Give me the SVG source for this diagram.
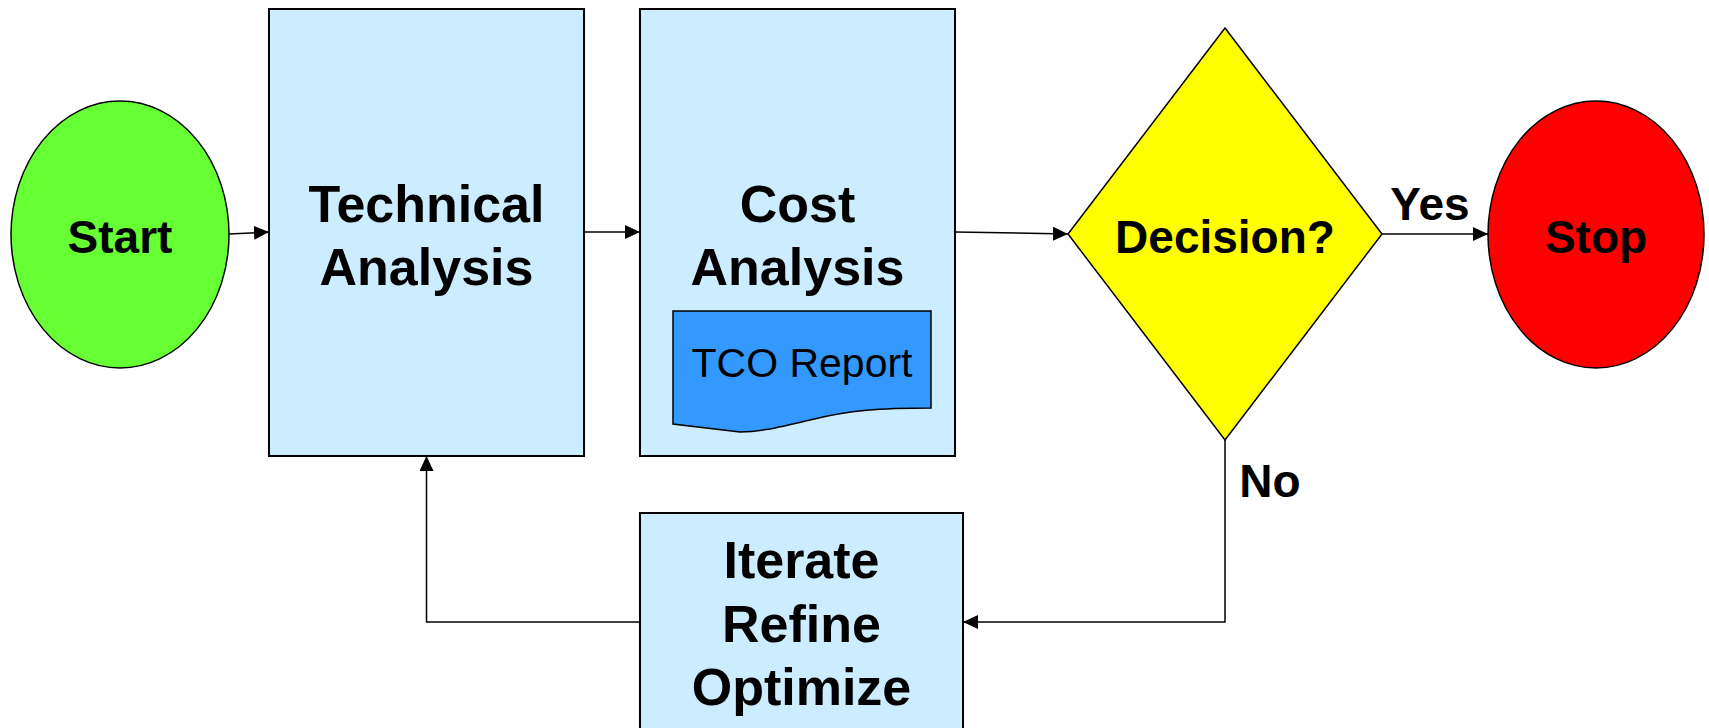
<svg xmlns="http://www.w3.org/2000/svg" width="1709" height="728" viewBox="0 0 1709 728">
  <style>
    .box { fill: #CCECFF; stroke: #000; stroke-width: 2; }
    .edge { fill: none; stroke: #000; stroke-width: 1.5; }
    .lbl { font-family: "Liberation Sans", Arial, sans-serif; font-weight: bold; font-size: 52px; fill: #000; text-anchor: middle; }
    .lbl-s { font-family: "Liberation Sans", Arial, sans-serif; font-weight: bold; font-size: 46px; fill: #000; text-anchor: middle; }
  </style>
  <defs>
    <marker id="arrow" viewBox="0 0 15 14" refX="15" refY="7" markerWidth="15" markerHeight="14" markerUnits="userSpaceOnUse" orient="auto">
      <path d="M0,0 L15,7 L0,14 Z" fill="#000"/>
    </marker>
  </defs>
  <rect width="1709" height="728" fill="#fff"/>

  <g id="start">
    <ellipse cx="120" cy="234.5" rx="109" ry="133.5" fill="#66FF33" stroke="#000" stroke-width="1.5"/>
    <text class="lbl-s" x="120" y="253">Start</text>
  </g>

  <g id="technical-analysis">
    <rect class="box" x="269" y="9" width="315" height="447"/>
    <text class="lbl" x="426.5" y="222">Technical</text>
    <text class="lbl" x="426.5" y="285">Analysis</text>
  </g>

  <g id="cost-analysis">
    <rect class="box" x="640" y="9" width="315" height="447"/>
    <text class="lbl" x="797.5" y="222">Cost</text>
    <text class="lbl" x="797.5" y="285">Analysis</text>
  </g>

  <g id="tco-report">
    <path d="M673,311 H931 V408 C880,408 850,410 810,420 C775,428 760,432 740,432 L673,424 Z" fill="#3399FF" stroke="#000" stroke-width="1.5"/>
    <text x="802" y="377" font-family="'Liberation Sans', Arial, sans-serif" font-size="41" text-anchor="middle" fill="#000">TCO Report</text>
  </g>

  <g id="decision">
    <polygon points="1225,28 1382,234 1225,440 1068,234" fill="#FFFF00" stroke="#000" stroke-width="1.5"/>
    <text class="lbl-s" x="1225" y="253">Decision?</text>
  </g>

  <g id="stop">
    <ellipse cx="1596" cy="234.5" rx="108" ry="133.5" fill="#FF0000" stroke="#000" stroke-width="1.5"/>
    <text class="lbl-s" x="1596" y="253">Stop</text>
  </g>

  <g id="iterate">
    <rect class="box" x="640" y="513" width="323" height="230"/>
    <text class="lbl" x="801.5" y="578">Iterate</text>
    <text class="lbl" x="801.5" y="642">Refine</text>
    <text class="lbl" x="801.5" y="705">Optimize</text>
  </g>

  <g id="connectors">
    <path class="edge" d="M229,234 L269,232" marker-end="url(#arrow)"/>
    <path class="edge" d="M584,232 L640,232" marker-end="url(#arrow)"/>
    <path class="edge" d="M955,232 L1068,234" marker-end="url(#arrow)"/>
    <path class="edge" d="M1382,234 L1488,234" marker-end="url(#arrow)"/>
    <path class="edge" d="M1225,440 V622 H963" marker-end="url(#arrow)"/>
    <path class="edge" d="M640,622 H426.5 V456" marker-end="url(#arrow)"/>
    <text class="lbl-s" x="1430" y="220">Yes</text>
    <text class="lbl-s" x="1270" y="497">No</text>
  </g>
</svg>
